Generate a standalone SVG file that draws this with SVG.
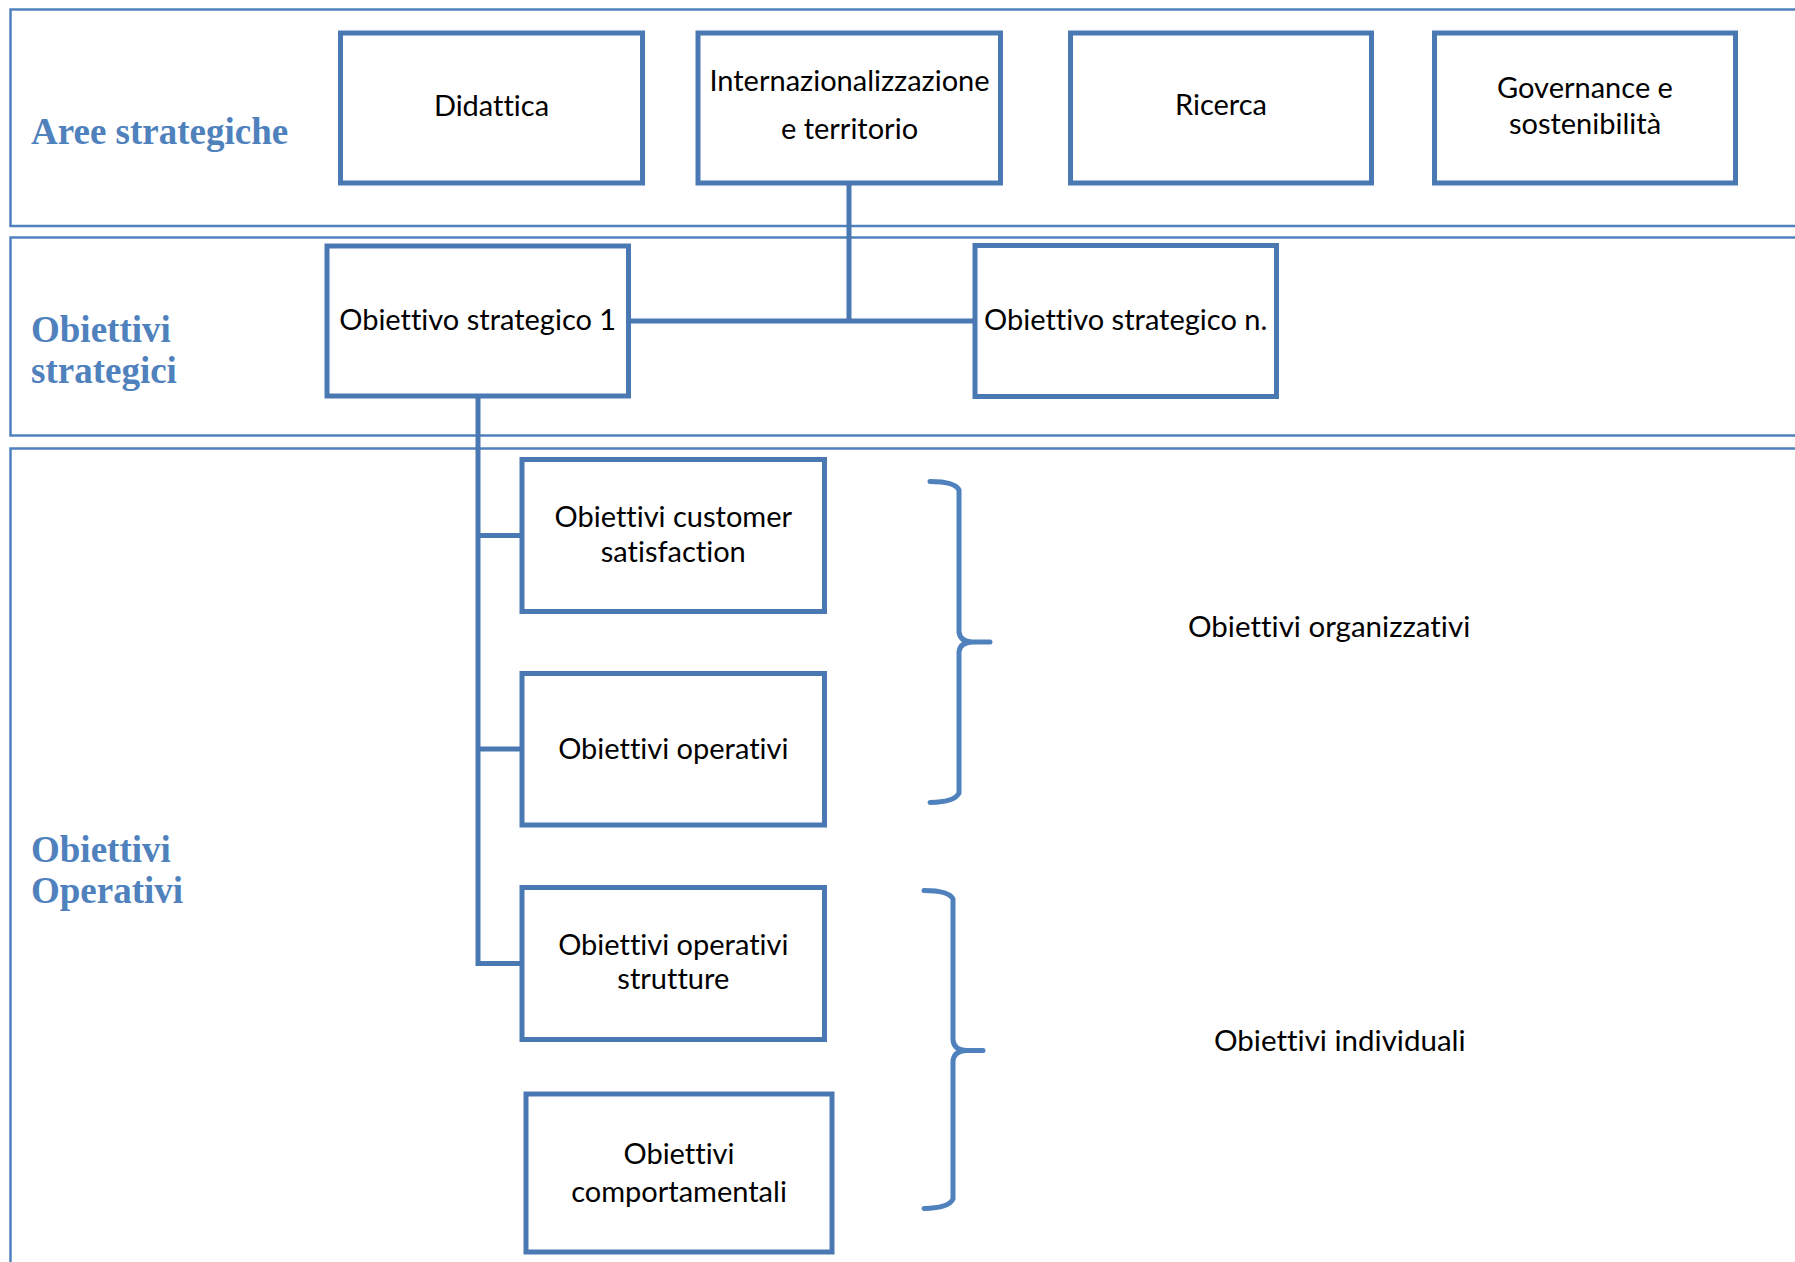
<svg xmlns="http://www.w3.org/2000/svg" width="1795" height="1262" viewBox="0 0 1795 1262">
  <style>
    .lane { fill: none; stroke: #4F81BD; stroke-width: 2.5; }
    .lane-label { font-family: "Liberation Serif", "Times New Roman", serif; font-weight: bold; font-size: 37px; fill: #4F81BD; }
    .box { fill: #FFFFFF; stroke: #4A78B3; stroke-width: 5; }
    .box-text { font-family: Lato, "Liberation Sans", sans-serif; font-size: 29px; fill: #000000; text-anchor: middle; font-variant-ligatures: none; }
    .side-text { font-family: Lato, "Liberation Sans", sans-serif; font-size: 29.5px; fill: #000000; font-variant-ligatures: none; }
    .link { fill: none; stroke: #4A78B3; stroke-width: 5; stroke-linejoin: miter; }
    .brace { fill: none; stroke: #4F81BD; stroke-width: 5; stroke-linecap: round; stroke-linejoin: round; }
  </style>

  <rect width="1795" height="1262" fill="#FFFFFF"/>

  <!-- Swim lanes -->
  <g id="lanes">
    <rect class="lane" x="10.5" y="9.5" width="1820" height="216.5"/>
    <rect class="lane" x="10.5" y="237.5" width="1820" height="198"/>
    <rect class="lane" x="10.5" y="448.5" width="1820" height="840"/>
    <text class="lane-label" x="31" y="144">Aree strategiche</text>
    <text class="lane-label" x="31" y="341.5">Obiettivi</text>
    <text class="lane-label" x="31" y="382.5">strategici</text>
    <text class="lane-label" x="31" y="862">Obiettivi</text>
    <text class="lane-label" x="31" y="903">Operativi</text>
  </g>

  <!-- Connectors -->
  <g id="connectors">
    <path class="link" d="M849,183 V321"/>
    <path class="link" d="M628.5,321 H975"/>
    <path class="link" d="M478,396 V963.5 H522"/>
    <path class="link" d="M478,535.5 H522"/>
    <path class="link" d="M478,749 H522"/>
  </g>

  <!-- Strategic areas -->
  <g id="didattica">
    <rect class="box" x="340.5" y="33" width="302" height="150"/>
    <text class="box-text" x="491.5" y="116">Didattica</text>
  </g>
  <g id="internazionalizzazione">
    <rect class="box" x="698" y="33" width="302.5" height="150"/>
    <text class="box-text" x="849.5" y="90.5">Internazionalizzazione</text>
    <text class="box-text" x="849.5" y="139">e territorio</text>
  </g>
  <g id="ricerca">
    <rect class="box" x="1070.5" y="33" width="301" height="150"/>
    <text class="box-text" x="1221" y="115">Ricerca</text>
  </g>
  <g id="governance">
    <rect class="box" x="1434.5" y="33" width="301" height="150"/>
    <text class="box-text" x="1585" y="97.5">Governance e</text>
    <text class="box-text" x="1585" y="133.5">sostenibilità</text>
  </g>

  <!-- Strategic objectives -->
  <g id="obiettivo-strategico-1">
    <rect class="box" x="327" y="246" width="301.5" height="150"/>
    <text class="box-text" x="477.7" y="330">Obiettivo strategico 1</text>
  </g>
  <g id="obiettivo-strategico-n">
    <rect class="box" x="975" y="245.5" width="301.5" height="151"/>
    <text class="box-text" x="1125.7" y="329.5">Obiettivo strategico n.</text>
  </g>

  <!-- Operational objectives -->
  <g id="customer-satisfaction">
    <rect class="box" x="522" y="459.5" width="302.5" height="152"/>
    <text class="box-text" x="673.3" y="526.5">Obiettivi customer</text>
    <text class="box-text" x="673.3" y="561.5">satisfaction</text>
  </g>
  <g id="obiettivi-operativi">
    <rect class="box" x="522" y="673.5" width="302.5" height="151.5"/>
    <text class="box-text" x="673.3" y="758.5">Obiettivi operativi</text>
  </g>
  <g id="operativi-strutture">
    <rect class="box" x="522" y="887.5" width="302.5" height="152"/>
    <text class="box-text" x="673.3" y="954.5">Obiettivi operativi</text>
    <text class="box-text" x="673.3" y="988.5">strutture</text>
  </g>
  <g id="comportamentali">
    <rect class="box" x="526" y="1094" width="306" height="158"/>
    <text class="box-text" x="679" y="1163.5">Obiettivi</text>
    <text class="box-text" x="679" y="1201.5">comportamentali</text>
  </g>

  <!-- Grouping braces -->
  <g id="brace-organizzativi">
    <path class="brace" d="M930,481.5 Q955,481.5 959,490 V632 Q960,641.5 972,642 H990 M972,642 Q960,642.5 959,652 V793 Q955,802 930,802.5"/>
    <text class="side-text" x="1188" y="637">Obiettivi organizzativi</text>
  </g>
  <g id="brace-individuali">
    <path class="brace" d="M924,890.5 Q949,890.5 953,899 V1040 Q954,1050 966,1050.5 H983 M966,1050.5 Q954,1051 953,1061 V1199 Q949,1208 924,1208.5"/>
    <text class="side-text" x="1214" y="1050.5">Obiettivi individuali</text>
  </g>
</svg>
